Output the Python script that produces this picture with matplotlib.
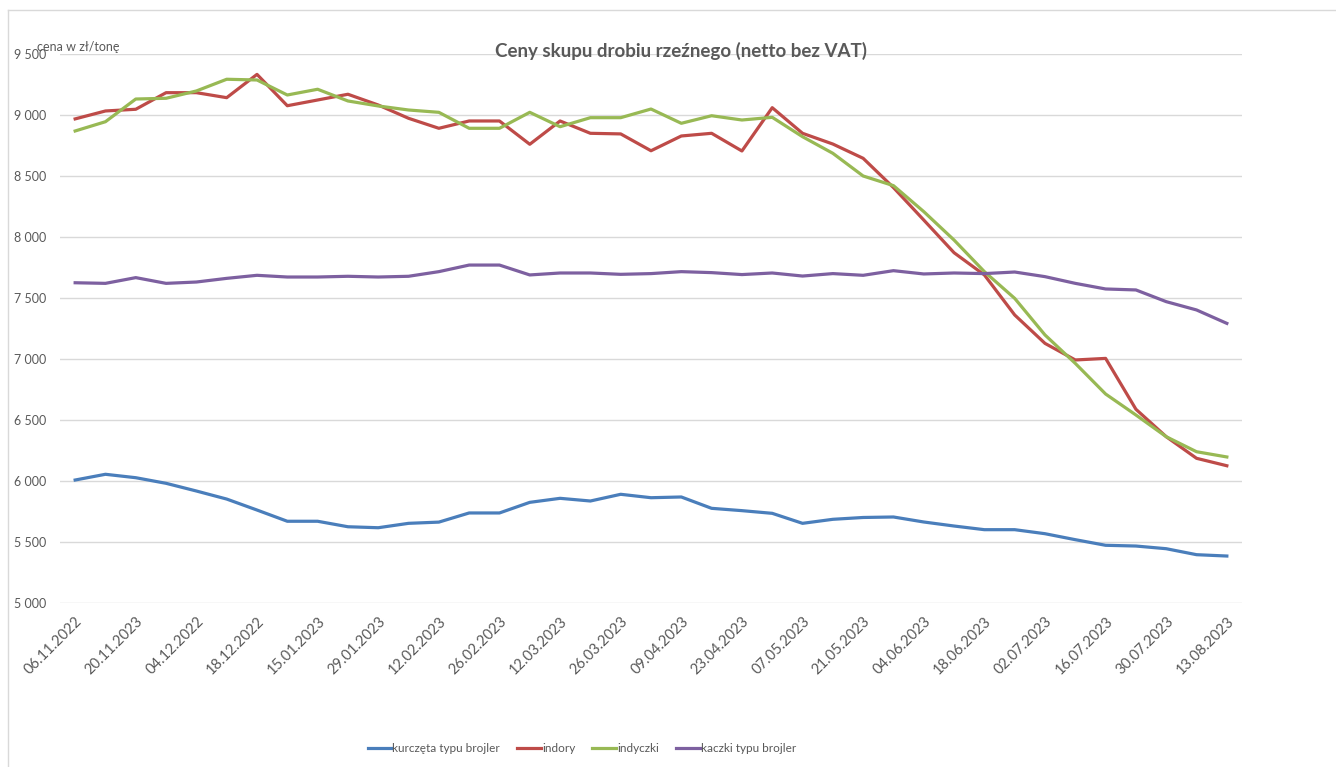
import numpy as np
import matplotlib
matplotlib.use("Agg")
import matplotlib.pyplot as plt
from matplotlib.lines import Line2D
from matplotlib.ticker import FuncFormatter

plt.rcParams['font.family'] = ['Lato', 'DejaVu Sans']

# labels shown every second week (as in the source sheet, incl. its typo)
tick_labels = ['06.11.2022', '20.11.2023', '04.12.2022', '18.12.2022', '15.01.2023',
               '29.01.2023', '12.02.2023', '26.02.2023', '12.03.2023', '26.03.2023',
               '09.04.2023', '23.04.2023', '07.05.2023', '21.05.2023', '04.06.2023',
               '18.06.2023', '02.07.2023', '16.07.2023', '30.07.2023', '13.08.2023']

kurczeta = [6008, 6055, 6027, 5981, 5918, 5852, 5762, 5670, 5670, 5625,
            5617, 5653, 5663, 5738, 5738, 5825, 5858, 5836, 5891, 5863,
            5869, 5776, 5757, 5735, 5653, 5686, 5701, 5705, 5664, 5631,
            5601, 5601, 5568, 5519, 5473, 5467, 5445, 5396, 5385]

indory = [8968, 9033, 9047, 9183, 9183, 9142, 9333, 9076, 9123, 9170,
          9082, 8973, 8891, 8951, 8951, 8760, 8951, 8850, 8845, 8707,
          8828, 8850, 8705, 9060, 8850, 8762, 8645, 8405, 8139, 7871,
          7689, 7361, 7128, 6992, 7005, 6588, 6363, 6186, 6125]

indyczki = [8869, 8945, 9131, 9137, 9197, 9293, 9287, 9164, 9211, 9115,
            9074, 9041, 9022, 8891, 8891, 9022, 8904, 8978, 8978, 9049,
            8932, 8994, 8959, 8981, 8822, 8686, 8500, 8421, 8208, 7975,
            7716, 7497, 7197, 6964, 6713, 6541, 6363, 6240, 6197]

kaczki = [7625, 7620, 7667, 7620, 7631, 7661, 7686, 7672, 7672, 7678,
          7672, 7678, 7716, 7770, 7770, 7689, 7705, 7705, 7694, 7700,
          7716, 7708, 7692, 7705, 7680, 7700, 7686, 7724, 7697, 7705,
          7700, 7713, 7675, 7620, 7574, 7566, 7470, 7402, 7292]

series = [('kurczęta typu brojler', kurczeta, '#4A7EBB'),
          ('indory', indory, '#BE4B48'),
          ('indyczki', indyczki, '#98B954'),
          ('kaczki typu brojler', kaczki, '#7D60A0')]

W, H = 1336, 767
fig = plt.figure(figsize=(W / 100, H / 100), dpi=100)
ax = fig.add_axes([60 / W, 1 - 603 / H, (1242 - 60) / W, (603 - 54) / H])

x = np.arange(len(kurczeta))
for name, vals, col in series:
    ax.plot(x, vals, color=col, lw=2.3, label=name, solid_joinstyle='round')

ax.set_xlim(-0.5, len(x) - 0.5)
ax.set_ylim(5000, 9500)
ax.set_yticks(np.arange(5000, 9501, 500))
ax.yaxis.set_major_formatter(FuncFormatter(lambda v, p: f'{int(v):,}'.replace(',', ' ')))
ax.set_xticks(x[::2])
ax.set_xticklabels(tick_labels, rotation=45, ha='right', rotation_mode='anchor')
ax.grid(axis='y', color='#D9D9D9', lw=1)
ax.set_axisbelow(True)
for s in ax.spines.values():
    s.set_visible(False)
ax.tick_params(axis='both', length=0, colors='#595959')
ax.tick_params(axis='y', pad=10, labelsize=9)
ax.tick_params(axis='x', pad=8, labelsize=10.5)

fig.text(681 / W, 1 - 51 / H, 'Ceny skupu drobiu rzeźnego (netto bez VAT)',
         ha='center', va='center', fontsize=13.5, fontweight='bold', color='#595959')
fig.text(37 / W, 1 - 47 / H, 'cena w zł/tonę', ha='left', va='center',
         fontsize=9, color='#595959')

fig.legend(loc='center', bbox_to_anchor=(582 / W, 1 - 749 / H), ncol=4, frameon=False,
           fontsize=8.5, handlelength=2.0, handletextpad=0.1, columnspacing=1.45,
           labelcolor='#595959')

# chart frame
fig.add_artist(Line2D([8 / W, 8 / W], [0, 1 - 10 / H], color='#D9D9D9', lw=1))
fig.add_artist(Line2D([8 / W, 1], [1 - 10 / H, 1 - 10 / H], color='#D9D9D9', lw=1))

fig.savefig('out.png', dpi=100)
